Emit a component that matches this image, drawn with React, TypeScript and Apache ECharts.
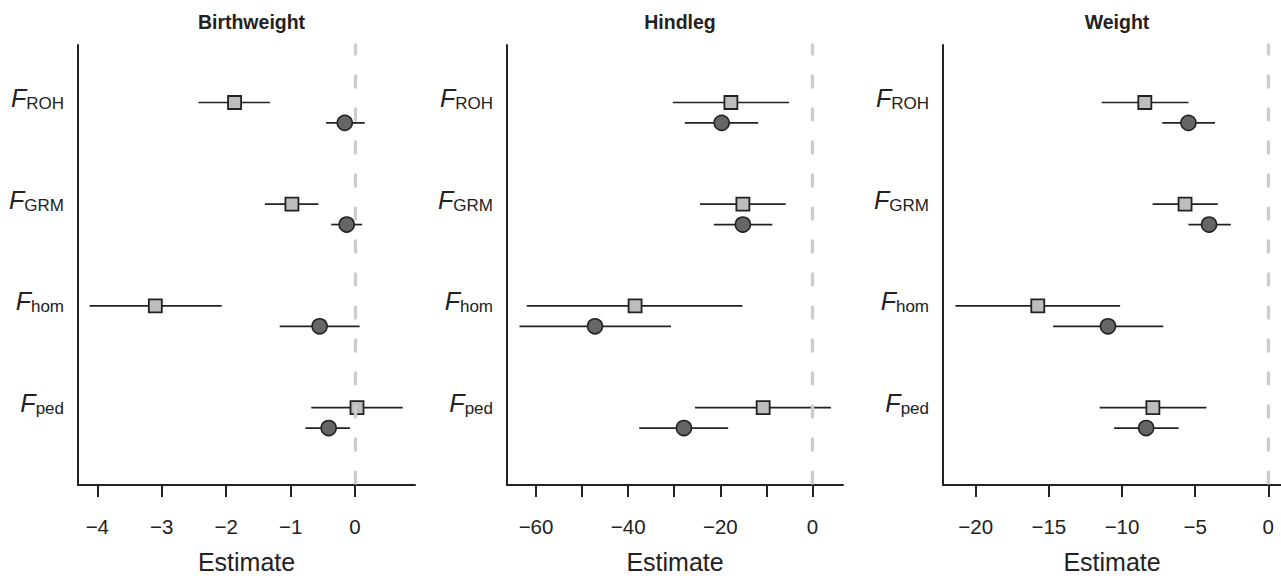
import React, { useEffect, useRef } from 'react';
import * as echarts from 'echarts';

const panelTitles = ['Birthweight', 'Hindleg', 'Weight'];
const terms = ['ROH', 'GRM', 'hom', 'ped'];

// Birthweight — square (model A) and circle (model B): estimate, lower, upper
const bwSquareEst = [-1.87, -0.98, -3.10, 0.03];
const bwSquareLo = [-2.43, -1.40, -4.12, -0.68];
const bwSquareHi = [-1.32, -0.57, -2.07, 0.74];
const bwCircleEst = [-0.16, -0.13, -0.55, -0.41];
const bwCircleLo = [-0.45, -0.37, -1.17, -0.77];
const bwCircleHi = [0.15, 0.11, 0.07, -0.08];

// Hindleg
const hlSquareEst = [-17.7, -15.1, -38.5, -10.7];
const hlSquareLo = [-30.3, -24.4, -62.0, -25.5];
const hlSquareHi = [-5.1, -5.8, -15.2, 4.0];
const hlCircleEst = [-19.7, -15.1, -47.2, -27.9];
const hlCircleLo = [-27.7, -21.4, -63.6, -37.6];
const hlCircleHi = [-11.8, -8.7, -30.7, -18.3];

// Weight
const wSquareEst = [-8.44, -5.69, -15.76, -7.89];
const wSquareLo = [-11.39, -7.91, -21.39, -11.53];
const wSquareHi = [-5.46, -3.45, -10.13, -4.23];
const wCircleEst = [-5.46, -4.05, -10.96, -8.35];
const wCircleLo = [-7.25, -5.46, -14.71, -10.54];
const wCircleHi = [-3.64, -2.56, -7.18, -6.13];

// axis ticks and labels
const bwTicks = [-4, -3, -2, -1, 0];
const bwLabels = [-4, -3, -2, -1, 0];
const hlTicks = [-60, -50, -40, -30, -20, -10, 0];
const hlLabels = [-60, -40, -20, 0];
const wTicks = [-20, -15, -10, -5, 0];
const wLabels = [-20, -15, -10, -5, 0];
const referenceValue = 0;

const panelData = [
  { sq: [bwSquareEst, bwSquareLo, bwSquareHi], ci: [bwCircleEst, bwCircleLo, bwCircleHi], ticks: bwTicks, labels: bwLabels, range: [-4.30, 0.93] },
  { sq: [hlSquareEst, hlSquareLo, hlSquareHi], ci: [hlCircleEst, hlCircleLo, hlCircleHi], ticks: hlTicks, labels: hlLabels, range: [-66.3, 6.63] },
  { sq: [wSquareEst, wSquareLo, wSquareHi], ci: [wCircleEst, wCircleLo, wCircleHi], ticks: wTicks, labels: wLabels, range: [-22.24, 0.87] },
];

const FONT = '"Liberation Sans", Arial, Helvetica, sans-serif';
const INK = '#222222';
const lefts = [78, 507, 943];
const widths = [337, 336, 338];
const gridTop = 45;
const gridHeight = 444;
const dodge = 0.2;

export default function App() {
  const ref = useRef<HTMLDivElement>(null);
  useEffect(() => {
    const chart = echarts.init(ref.current!, undefined, { renderer: 'svg' });

    const grids: any[] = [];
    const xAxes: any[] = [];
    const yAxes: any[] = [];
    const titles: any[] = [];
    const series: any[] = [];

    const ciRender = (params: any, api: any) => {
      const y = api.value(2);
      const p1 = api.coord([api.value(0), y]);
      const p2 = api.coord([api.value(1), y]);
      return {
        type: 'line',
        shape: { x1: p1[0], y1: p1[1], x2: p2[0], y2: p2[1] },
        style: { stroke: INK, lineWidth: 1.7 },
      };
    };

    panelData.forEach((p, i) => {
      grids.push({ left: lefts[i], width: widths[i], top: gridTop, height: gridHeight, containLabel: false });
      titles.push({
        text: panelTitles[i],
        left: lefts[i] + widths[i] / 2,
        textAlign: 'center',
        top: 7,
        textStyle: { fontFamily: FONT, fontSize: 19.5, fontWeight: 'bold', color: INK },
      });
      xAxes.push({
        type: 'value',
        gridIndex: i,
        min: p.range[0],
        max: p.range[1],
        name: 'Estimate',
        nameLocation: 'middle',
        nameGap: 64,
        nameTextStyle: { fontFamily: FONT, fontSize: 25, color: INK },
        splitLine: { show: false },
        axisLine: { show: true, onZero: false, lineStyle: { color: INK, width: 2 } },
        axisTick: { show: true, length: 12, customValues: p.ticks, lineStyle: { color: INK, width: 2 } },
        axisLabel: {
          customValues: p.labels,
          margin: 31,
          fontFamily: FONT,
          fontSize: 20.5,
          color: INK,
          formatter: (v: number) => String(v).replace('-', '\u2212'),
        },
      });
      yAxes.push({
        type: 'value',
        gridIndex: i,
        inverse: true,
        min: -0.565,
        max: 3.76,
        splitLine: { show: false },
        axisLine: { show: true, onZero: false, lineStyle: { color: INK, width: 2 } },
        axisTick: { show: false },
        axisLabel: {
          customValues: [0, 1, 2, 3],
          margin: 14,
          padding: [0, 0, 9, 0],
          formatter: (v: number) => `{f|F}{s|${terms[Math.round(v)]}}`,
          rich: {
            f: { fontFamily: FONT, fontSize: 25, fontStyle: 'italic', color: INK },
            s: { fontFamily: FONT, fontSize: 17, color: INK, padding: [11, 0, 0, 0] },
          },
        },
      });

      series.push({
        type: 'custom',
        xAxisIndex: i,
        yAxisIndex: i,
        renderItem: ciRender,
        encode: { x: [0, 1], y: 2 },
        data: terms.map((_, g) => [p.sq[1][g], p.sq[2][g], g]),
        z: 2,
        silent: true,
      });
      series.push({
        type: 'custom',
        xAxisIndex: i,
        yAxisIndex: i,
        renderItem: ciRender,
        encode: { x: [0, 1], y: 2 },
        data: terms.map((_, g) => [p.ci[1][g], p.ci[2][g], g + dodge]),
        z: 2,
        silent: true,
      });
      series.push({
        type: 'scatter',
        xAxisIndex: i,
        yAxisIndex: i,
        symbol: 'rect',
        symbolSize: 13,
        itemStyle: { color: '#bdbdbd', borderColor: INK, borderWidth: 1.8, opacity: 1 },
        data: terms.map((_, g) => [p.sq[0][g], g]),
        z: 3,
        silent: true,
      });
      series.push({
        type: 'scatter',
        xAxisIndex: i,
        yAxisIndex: i,
        symbol: 'circle',
        symbolSize: 15,
        itemStyle: { color: '#666666', borderColor: INK, borderWidth: 1.6, opacity: 1 },
        data: terms.map((_, g) => [p.ci[0][g], g + dodge]),
        z: 3,
        silent: true,
      });
      series.push({
        type: 'scatter',
        xAxisIndex: i,
        yAxisIndex: i,
        data: [],
        z: 6,
        silent: true,
        markLine: {
          silent: true,
          z: 6,
          symbol: ['none', 'none'],
          label: { show: false },
          lineStyle: { color: '#cccccc', width: 3.3, type: [11, 22], cap: 'round', dashOffset: 2 },
          data: [{ xAxis: referenceValue }],
        },
      });
    });

    chart.setOption({
      animation: false,
      backgroundColor: '#ffffff',
      title: titles,
      grid: grids,
      xAxis: xAxes,
      yAxis: yAxes,
      series,
    });
    return () => chart.dispose();
  }, []);
  return <div ref={ref} style={{ position: 'fixed', left: 0, top: 0, width: 1281, height: 579 }} />;
}
